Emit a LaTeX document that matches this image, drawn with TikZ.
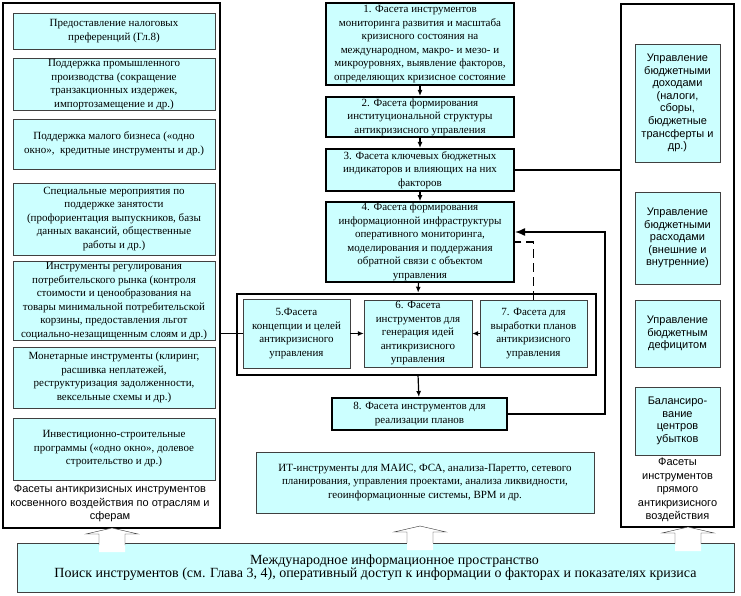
\documentclass[tikz,border=0pt]{standalone}
\usepackage{fontspec}
\setmainfont{Liberation Serif}
\setsansfont{Liberation Sans}
\usepackage{tikz}
\usetikzlibrary{arrows.meta}
\usepackage{xcolor}
\definecolor{facetcyan}{RGB}{204,255,255}
\tikzset{
    facet-box/.style = {draw=black!75, fill=facetcyan, thin, rectangle, align=center, inner sep=1pt, font=\fontsize{11}{13.5}\selectfont},
    facet-thick/.style = {facet-box, draw=black, line width=2pt},
    side-box/.style = {facet-box, font=\sffamily\fontsize{11}{12.6}\selectfont},
    frame-box/.style = {draw=black, line width=1.8pt, rectangle, inner sep=0pt},
    frame-title/.style = {align=center, font=\sffamily\fontsize{11}{13.3}\selectfont},
    link/.style = {line width=1.2pt, -{Latex[length=6pt,width=5pt]}},
    up-block/.pic = {
        \fill[white] (-13,-24) -- (-13,-6) -- (-26,-6) -- (0,0) -- (26,-6) -- (13,-6) -- (13,-24) -- cycle;
        \draw[black!80, thin] (-13,-17) -- (-13,-6) -- (-26,-6) -- (0,0) -- (26,-6) -- (13,-6) -- (13,-17);
    },
}

\begin{document}
\begin{tikzpicture}[x=1pt, y=1pt]
\useasboundingbox (0,0) rectangle (741,-596);
% frames
\node [frame-box, minimum width=217, minimum height=525] (leftframe) at (111.5,-265.5) {};
\node [frame-box, minimum width=113, minimum height=523] (rightframe) at (677.5,-265.5) {};
\node [frame-box, line width=2.4pt, minimum width=359, minimum height=81] (group) at (416.5,-334.5) {};

% left column
\node [facet-box, minimum width=202, minimum height=36] (l1) at (114,-31) {Предоставление налоговых\\ преференций (Гл.8)};
\node [facet-box, minimum width=202, minimum height=51] (l2) at (114,-84.5) {Поддержка промышленного\\ производства (сокращение\\ транзакционных издержек,\\ импортозамещение и др.)};
\node [facet-box, minimum width=202, minimum height=50] (l3) at (114,-144) {Поддержка малого бизнеса («одно\\ окно»,~ кредитные инструменты и др.)};
\node [facet-box, minimum width=202, minimum height=72] (l4) at (114,-219) {Специальные мероприятия по\\ поддержке занятости\\ (профориентация выпускников, базы\\ данных вакансий, общественные\\ работы и др.)};
\node [facet-box, minimum width=202, minimum height=78] (l5) at (114,-301) {Инструменты регулирования\\ потребительского рынка (контроля\\ стоимости и ценообразования на\\ товары минимальной потребительской\\ корзины, предоставления льгот\\ социально-незащищенным слоям и др.)};
\node [facet-box, minimum width=202, minimum height=61] (l6) at (114,-377.5) {Монетарные инструменты (клиринг,\\ расшивка неплатежей,\\ реструктуризация задолженности,\\ вексельные схемы и др.)};
\node [facet-box, minimum width=202, minimum height=62] (l7) at (114,-449) {Инвестиционно-строительные\\ программы («одно окно», долевое\\ строительство и др.)};
\node [frame-title] (ltitle) at (110,-503.5) {Фасеты антикризисных инструментов\\ косвенного воздействия по отраслям и\\ сферам};

% center column
\node [facet-thick, minimum width=188, minimum height=82] (c1) at (420,-44) {1. Фасета инструментов\\ мониторинга развития и масштаба\\ кризисного состояния на\\ международном, макро- и мезо- и\\ микроуровнях, выявление факторов,\\ определяющих кризисное состояние};
\node [facet-thick, minimum width=188, minimum height=40] (c2) at (420,-117) {2. Фасета формирования\\ институциональной структуры\\ антикризисного управления};
\node [facet-thick, minimum width=188, minimum height=42] (c3) at (420,-170) {3. Фасета ключевых бюджетных\\ индикаторов и влияющих на них\\ факторов};
\node [facet-thick, minimum width=188, minimum height=78] (c4) at (420,-242) {4. Фасета формирования\\ информационной инфраструктуры\\ оперативного мониторинга,\\ моделирования и поддержания\\ обратной связи с объектом\\ управления};
\node [facet-box, minimum width=107, minimum height=69] (c5) at (296.5,-333.5) {5.Фасета\\ концепции и целей\\ антикризисного\\ управления};
\node [facet-box, minimum width=108, minimum height=67] (c6) at (418,-333.5) {6. Фасета\\ инструментов для\\ генерация идей\\ антикризисного\\ управления};
\node [facet-box, minimum width=107, minimum height=67] (c7) at (533.5,-333.5) {7. Фасета для\\ выработки планов\\ антикризисного\\ управления};
\node [facet-thick, minimum width=175, minimum height=32] (c8) at (419.5,-414) {8. Фасета инструментов для\\ реализации планов};
\node [facet-box, minimum width=338, minimum height=61] (it) at (425,-482.5) {ИТ-инструменты для МАИС, ФСА, анализа-Паретто, сетевого\\ планирования, управления проектами, анализа ликвидности,\\ геоинформационные системы, BPM и др.};

% right column
\node [side-box, minimum width=85, minimum height=118] (r1) at (677.5,-103) {Управление\\ бюджетными\\ доходами\\ (налоги,\\ сборы,\\ бюджетные\\ трансферты и\\ др.)};
\node [side-box, minimum width=85, minimum height=92] (r2) at (677.5,-238) {Управление\\ бюджетными\\ расходами\\ (внешние и\\ внутренние)};
\node [side-box, minimum width=85, minimum height=67] (r3) at (677.5,-333.5) {Управление\\ бюджетным\\ дефицитом};
\node [side-box, minimum width=85, minimum height=68] (r4) at (677.5,-421) {Балансиро-\\ вание\\ центров\\ убытков};
\node [frame-title, font=\sffamily\fontsize{11}{13.5}\selectfont] (rtitle) at (677.5,-490) {Фасеты\\ инструментов\\ прямого\\ антикризисного\\ воздействия};

% bottom
\node [facet-box, minimum width=717, minimum height=49, font=\fontsize{14}{12}\selectfont] (space) at (375.5,-567.5) {\hspace*{38pt}Международное информационное пространство\\[-1pt] Поиск инструментов (см. Глава 3, 4), оперативный доступ к информации о факторах и показателях кризиса};
\path (112,-528) pic {up-block};
\path (420,-526) pic {up-block};
\path (688,-527) pic {up-block};

% connectors
\draw [link] (c1) -- (c2);
\draw [link] (c2) -- (c3);
\draw [link] (c3) -- (c4);
\draw [link] (c4) -- (group);
\draw [link] (group) -- (c8);
\draw [link] (c5) -- (c6);
\draw [link] (c7) -- (c6);
\draw [line width=1.2pt] (c3.east) -- (c3.east -| rightframe.west);
\draw [line width=1.2pt] (c5.west -| leftframe.east) -- (c5.west);
\draw [line width=1.8pt, dash pattern=on 9pt off 5pt] (c7.north) |- (c4.east);
\coordinate (turn) at (605,-232);
\draw [line width=1.4pt, -{Latex[length=10pt,width=8pt]}] (c8.east) -| (turn) -- (turn -| c4.east);
\end{tikzpicture}
\end{document}
